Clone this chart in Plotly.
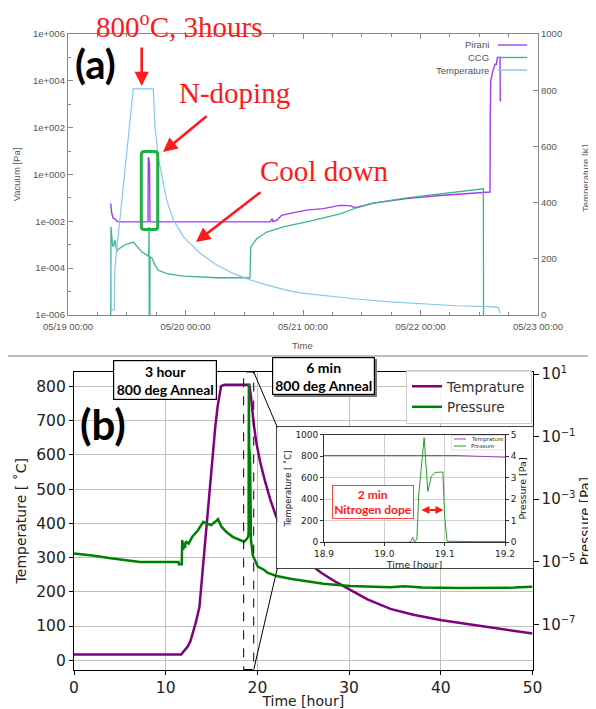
import plotly.graph_objects as go
import pandas as pd

# page is 596x709; the html body adds an 8 px margin, so the figure itself is 588x701
OFF = 8
W, H = 596 - OFF, 709 - OFF

# ---------------- (a) data : hours since 05/19 00:00 ----------------
a_pirani_h = [8.72, 8.89, 9.19, 9.6, 10.0, 10.62, 16.34, 16.4, 16.55, 16.65, 16.75,
              41.26, 41.7, 41.85, 42.63, 43.65, 45.35, 48.76, 52.1, 55.56, 57.6, 58.63,
              62.37, 69.19, 76.0, 86.2, 86.25, 86.35, 86.76, 87.22, 87.5, 87.7, 88.24, 88.29]
a_pirani_pa = [0.058, 0.025, 0.014, 0.0126, 0.010, 0.0095, 0.0095, 5.5, 4.0, 2.8, 0.0095,
               0.0095, 0.013, 0.0098, 0.011, 0.018, 0.022, 0.030, 0.035, 0.048, 0.047, 0.038,
               0.060, 0.093, 0.126, 0.178, 380, 1.0e4, 2.6e4, 5.1e4, 5.1e4, 1.0e5, 1.0e5, 1.3e3]

a_ccg_h = [8.72, 8.78, 9.09, 9.25, 9.6, 9.95, 10.21, 11.64, 13.34, 15.05, 16.48, 16.55,
           16.6, 16.7, 16.75, 17.1, 17.77, 18.44, 20.16, 23.55, 30.37, 37.17, 37.32,
           38.55, 40.59, 43.98, 49.43, 55.56, 58.97, 62.37, 69.19, 76.0, 84.84, 84.88]
a_ccg_pa = [3e-7, 5.8e-3, 1.0e-3, 8.1e-4, 1.6e-3, 5.0e-4, 6.3e-4, 1.0e-3, 1.3e-3, 5.0e-4,
            3.2e-4, 5.8e-3, 3e-7, 3e-7, 3.0e-4, 2.8e-4, 1.35e-4, 8.1e-5, 5.9e-5, 4.6e-5,
            3.9e-5, 3.9e-5, 8.1e-4, 1.8e-3, 3.5e-3, 5.8e-3, 1.02e-2, 2.1e-2, 3.8e-2,
            6.0e-2, 0.10, 0.15, 0.245, 3e-7]

a_temp_h = [8.74, 8.84, 9.46, 9.54, 9.74, 13.34, 17.42, 17.77, 18.44, 19.47, 20.16,
            21.51, 23.55, 26.96, 30.37, 33.76, 37.17, 40.59, 43.98, 47.39, 52.15,
            58.97, 65.77, 72.57, 79.39, 86.19, 87.89, 88.24]
a_temp_K = [190, 18, 18, 150, 196, 805, 805, 670, 560, 470, 409,
            338, 279, 220, 178, 148, 125, 107, 91, 79, 69,
            57, 47, 39, 33, 30, 27, 6]

a_names = ["Pirani", "CCG", "Temperature"]
a_vac_tickvals = [1e-6, 1e-4, 1e-2, 1e0, 1e2, 1e4, 1e6]
a_vac_ticktext = ["1e-006", "1e-004", "1e-002", "1e+000", "1e+002", "1e+004", "1e+006"]

# ---------------- (b) data : hours ----------------
b_t = [0, 11.7, 11.9, 12.1, 12.4, 12.7, 12.95, 13.3, 13.68, 14.11, 14.45, 14.8, 15.1,
       15.4, 15.67, 15.85, 16.04, 16.4, 19.12, 19.3, 19.6, 19.9, 20.3, 20.8, 21.4,
       22.05, 23.0, 24.0, 25.0, 26.1, 27.0, 28.6, 30.1, 32.0, 34.5, 37.0, 40.1,
       43.0, 45.4, 48.0, 50.0]
b_temp = [17, 17, 24, 30, 40, 56, 78, 112, 156, 292, 390, 500, 596,
          680, 743, 778, 801, 805, 805, 770, 690, 633, 580, 526, 470,
          419, 370, 330, 300, 273, 255, 228, 205, 178, 150, 133, 117,
          106, 97, 86, 78]

b_tp = [0, 2, 4, 6, 7.2, 11.4, 11.45, 11.75, 11.8, 11.9, 12.0, 12.1, 12.2, 12.5, 12.9,
        13.5, 14.1, 14.5, 14.95, 15.4, 15.7, 16.1, 16.6, 17.3, 18.0, 18.55, 18.75, 18.9,
        19.0, 19.04, 19.044, 19.047, 19.05, 19.054, 19.057, 19.066, 19.072, 19.078,
        19.084, 19.097, 19.1, 19.104, 19.15, 19.2, 19.3, 19.5, 20.05, 20.7, 21.1, 22.1,
        23.6, 24.7, 27.2, 30.1, 34.5, 36.0, 38.0, 42.0, 45.4, 48.0, 50.0]
b_pres = [1.86e-5, 1.6e-5, 1.3e-5, 1.1e-5, 9.8e-6, 9.8e-6, 8.3e-6, 8.3e-6, 5.0e-5,
          2.4e-5, 4.0e-5, 2.8e-5, 4.5e-5, 3.8e-5, 6.3e-5, 1.0e-4, 1.9e-4, 1.66e-4,
          1.5e-4, 1.9e-4, 2.3e-4, 1.3e-4, 9.1e-5, 6.3e-5, 5.0e-5, 4.4e-5, 5.0e-5,
          5.6e-5, 6.3e-5, 1.0e-4, 0.05, 0.23, 0.01, 0.15, 2.2, 4.85, 2.36, 3.06,
          3.24, 3.26, 1.2, 0.05, 0.03, 0.02, 5.0e-5, 1.6e-5, 7.0e-6, 5.6e-6, 4.5e-6,
          3.5e-6, 2.9e-6, 2.6e-6, 2.0e-6, 1.7e-6, 1.55e-6, 1.66e-6, 1.5e-6, 1.45e-6,
          1.45e-6, 1.5e-6, 1.6e-6]

b_names = ["Temprature", "Pressure"]
b_p_tickvals = [1e1, 1e-1, 1e-3, 1e-5, 1e-7]
b_p_exponents = ["1", "\u22121", "\u22123", "\u22125", "\u22127"]
zoom_window = [18.5, 19.6]
dope_window = [19.059, 19.098]

# ---------------- helpers (page pixel -> paper) ----------------
def px(x):
    return (x - OFF) / W

def py(y):
    return 1 - (y - OFF) / H

base = pd.Timestamp("2021-05-19 00:00")
def to_dt(hours):
    return [base + pd.Timedelta(hours=h) for h in hours]

b_p_ticktext = ["10<sup><span style='font-size:10px'>%s</span></sup>" % e for e in b_p_exponents]

C_PIR = "#a23cf0"
C_CCG = "#3db58c"
C_TA = "#86c8ee"
C_TB = "#800080"
C_TI = "#a040b4"
C_PB = "#008000"
C_PI = "#2a9d2a"
RED = "#ff1a1a"

GNU = dict(family="Liberation Sans", size=9.5, color="#555555")
MPL = dict(family="DejaVu Sans", size=15.5, color="#222222")
MPLT = dict(family="DejaVu Sans", size=14, color="#222222")
INS = dict(family="DejaVu Sans", size=9, color="#222222")

fig = go.Figure()

# (a)
fig.add_trace(go.Scatter(x=to_dt(a_pirani_h), y=a_pirani_pa, xaxis="x", yaxis="y", mode="lines",
                         name=a_names[0], line=dict(color=C_PIR, width=1.4), showlegend=False))
fig.add_trace(go.Scatter(x=to_dt(a_ccg_h), y=a_ccg_pa, xaxis="x", yaxis="y", mode="lines",
                         name=a_names[1], line=dict(color=C_CCG, width=1.3), showlegend=False))
fig.add_trace(go.Scatter(x=to_dt(a_temp_h), y=a_temp_K, xaxis="x", yaxis="y2", mode="lines",
                         name=a_names[2], line=dict(color=C_TA, width=1.2), showlegend=False))

# (b) main
fig.add_trace(go.Scatter(x=b_t, y=b_temp, xaxis="x3", yaxis="y3", mode="lines", name=b_names[0],
                         line=dict(color=C_TB, width=2.5)))
fig.add_trace(go.Scatter(x=b_tp, y=b_pres, xaxis="x3", yaxis="y4", mode="lines", name=b_names[1],
                         line=dict(color=C_PB, width=2.5)))
# inset frame (white background + border)
fig.add_trace(go.Scatter(x=[0.5], y=[0.5], xaxis="x5", yaxis="y5", mode="markers",
                         marker=dict(opacity=0), showlegend=False, hoverinfo="skip"))
# inset
fig.add_trace(go.Scatter(x=b_t, y=b_temp, xaxis="x6", yaxis="y6", mode="lines", name=b_names[0],
                         line=dict(color=C_TI, width=1), showlegend=False))
fig.add_trace(go.Scatter(x=b_tp, y=b_pres, xaxis="x6", yaxis="y7", mode="lines", name=b_names[1],
                         line=dict(color=C_PI, width=1), showlegend=False))

# domains
XA = [px(68), px(538)]
YA = [py(315), py(34)]
XB = [px(74), px(532.5)]
YB = [py(669.5), py(372)]
XF = [px(277.3), px(532.5)]
YF = [py(568.3), py(427.3)]
XI = [px(324), px(505)]
YI = [py(542.3), py(434.5)]
B_XRANGE = [0, 50]

def bx(t):
    return XB[0] + (t - B_XRANGE[0]) / (B_XRANGE[1] - B_XRANGE[0]) * (XB[1] - XB[0])

NOAM = dict(automargin=False, zeroline=False)

layout = dict(
    template="none",
    width=W, height=H, margin=dict(l=0, r=0, t=0, b=0, autoexpand=False),
    paper_bgcolor="white", plot_bgcolor="white",
    # ---- (a)
    xaxis=dict(domain=XA, anchor="y", type="date",
               range=[base, base + pd.Timedelta(days=4)],
               tick0=base, dtick=86400000, tickformat="%m/%d %H:%M",
               ticks="inside", ticklen=5, tickcolor="#888", mirror="ticks",
               showline=True, linecolor="#888", linewidth=1.3, showgrid=False,
               ticklabelstandoff=2,
               minor=dict(dtick=6 * 3600000, ticks="inside", ticklen=3, tickcolor="#888",
                          showgrid=False),
               tickfont=GNU, **NOAM),
    yaxis=dict(domain=YA, anchor="x", type="log", range=[-6, 6],
               tickvals=a_vac_tickvals, ticktext=a_vac_ticktext,
               ticks="inside", ticklen=5, tickcolor="#888",
               minor=dict(tickvals=[1e-5, 1e-3, 1e-1, 1e1, 1e3, 1e5], ticks="inside",
                          ticklen=3, tickcolor="#888", showgrid=False),
               showline=True, linecolor="#888", linewidth=1.3, showgrid=False,
               tickfont=GNU, title=dict(text="Vacuum [Pa]", font=GNU, standoff=10), **NOAM),
    yaxis2=dict(domain=YA, anchor="x", overlaying="y", side="right", range=[0, 1000],
                dtick=200, ticks="inside", ticklen=5, tickcolor="#888",
                showline=True, linecolor="#888", linewidth=1.3, showgrid=False,
                tickfont=GNU, **NOAM),
    # ---- (b)
    xaxis3=dict(domain=XB, anchor="y3", range=B_XRANGE, dtick=10, ticks="outside", ticklen=4,
                tickcolor="#000", showline=True, linecolor="#000", linewidth=1.2, mirror=True,
                showgrid=True, gridcolor="#c0c0c0", gridwidth=1,
                tickfont=MPL, title=dict(text="Time [hour]", font=MPLT, standoff=4), **NOAM),
    yaxis3=dict(domain=YB, anchor="x3", range=[-27, 842], dtick=100, ticks="outside", ticklen=4,
                tickcolor="#000", showline=True, linecolor="#000", linewidth=1.2,
                showgrid=True, gridcolor="#c0c0c0", gridwidth=1,
                tickfont=MPL, title=dict(text="Temperature [ \u02daC]", font=MPLT, standoff=6), **NOAM),
    yaxis4=dict(domain=YB, anchor="x3", overlaying="y3", side="right", type="log",
                range=[-8.44, 1.064], tickvals=b_p_tickvals, ticktext=b_p_ticktext,
                ticks="outside", ticklen=5, tickcolor="#000", showline=True, linecolor="#000",
                linewidth=1.2, showgrid=False, tickfont=dict(MPL, size=15), **NOAM),
    # ---- inset frame
    xaxis5=dict(domain=XF, anchor="y5", range=[0, 1], showline=True, mirror=True,
                linecolor="#444", linewidth=1, showgrid=False,
                showticklabels=False, ticks="", **NOAM),
    yaxis5=dict(domain=YF, anchor="x5", range=[0, 1], showline=True, mirror=True,
                linecolor="#444", linewidth=1, showgrid=False,
                showticklabels=False, ticks="", **NOAM),
    # ---- inset
    xaxis6=dict(domain=XI, anchor="y6", range=[18.9, 19.2], dtick=0.1, tickformat=".1f",
                ticks="outside", ticklen=3, tickcolor="#333", showline=True, mirror=True,
                linecolor="#333", linewidth=0.8, showgrid=True, gridcolor="#d0d0d0",
                tickfont=INS,
                title=dict(text="Time [hour]", font=dict(INS, size=9.5), standoff=2), **NOAM),
    yaxis6=dict(domain=YI, anchor="x6", range=[0, 1000], dtick=200, ticks="outside", ticklen=3,
                tickcolor="#333", showline=True, linecolor="#333", linewidth=0.8,
                showgrid=True, gridcolor="#d0d0d0", tickfont=INS,
                title=dict(text="Temperature [ \u02daC]", font=dict(INS, size=8.5), standoff=2), **NOAM),
    yaxis7=dict(domain=YI, anchor="x6", overlaying="y6", side="right", range=[0, 5], dtick=1,
                ticks="outside", ticklen=3, tickcolor="#333", showline=True, linecolor="#333",
                linewidth=0.8, showgrid=False, tickfont=INS,
                title=dict(text="Pressure [Pa]", font=dict(INS, size=9.5), standoff=2), **NOAM),
    legend=dict(x=px(532), xanchor="right", y=py(370), yanchor="top",
                font=dict(family="DejaVu Sans", size=13.5, color="#333"),
                bgcolor="rgba(255,255,255,0.85)", bordercolor="#cccccc", borderwidth=1),
    showlegend=True,
)
fig.update_layout(**layout)

shapes = []
annos = []

def note(x, y, text, font, **kw):
    d = dict(x=px(x), y=py(y), xref="paper", yref="paper", text=text, showarrow=False,
             xanchor="center", yanchor="middle", font=font)
    d.update(kw)
    annos.append(d)

# axis titles placed by hand
note(585, 178, "Temperature [K]", GNU, textangle=-90)
note(303, 346, "Time", GNU)
note(584.5, 521.7, "Pressure [Pa]", dict(MPLT, size=13.5), textangle=-90)

# ---- (a) legend (gnuplot style: text then sample line)
for i, (nm, col) in enumerate(zip(a_names, [C_PIR, C_CCG, C_TA])):
    yy = 45 + 12.5 * i
    note(491, yy, nm, GNU, xanchor="right")
    shapes.append(dict(type="line", xref="paper", yref="paper", x0=px(498), x1=px(527),
                       y0=py(yy), y1=py(yy), line=dict(color=col, width=1.4)))

# ---- inset legend (small, matplotlib style)
shapes.append(dict(type="rect", xref="paper", yref="paper", x0=px(451.5), x1=px(504.5),
                   y0=py(450), y1=py(435.5), fillcolor="rgba(255,255,255,0.85)",
                   line=dict(color="#cccccc", width=0.6)))
for i, (nm, col) in enumerate(zip(b_names, [C_TI, C_PI])):
    yy = 439 + 7 * i
    shapes.append(dict(type="line", xref="paper", yref="paper", x0=px(454), x1=px(466),
                       y0=py(yy), y1=py(yy), line=dict(color=col, width=1)))
    note(469, yy, nm, dict(family="DejaVu Sans", size=5.5, color="#333"), xanchor="left")

# ---- (a) red annotations
SER = dict(family="Liberation Serif", size=29, color=RED)
note(179, 25, "800<sup>o</sup>C, 3hours", SER)
note(234, 93, "N-doping", SER)
note(324, 171, "Cool down", SER)
for (hx, hy, ax_, ay_) in [(141.7, 86, 0, -40), (163, 152, 45, -37), (196, 242, 66, -51)]:
    annos.append(dict(x=px(hx), y=py(hy), xref="paper", yref="paper", text="", showarrow=True,
                      ax=ax_, ay=ay_, arrowhead=2, arrowsize=1.1, arrowwidth=2.6,
                      arrowcolor=RED))
# green rounded box
x0, x1, y0, y1, r = px(141.3), px(157.7), py(229.5), py(151.5), 3
rx, ry = r / W, r / H
path = (f"M {x0+rx},{y1} L {x1-rx},{y1} Q {x1},{y1} {x1},{y1-ry} L {x1},{y0+ry} "
        f"Q {x1},{y0} {x1-rx},{y0} L {x0+rx},{y0} Q {x0},{y0} {x0},{y0+ry} L {x0},{y1-ry} "
        f"Q {x0},{y1} {x0+rx},{y1} Z")
shapes.append(dict(type="path", xref="paper", yref="paper", path=path,
                   line=dict(color="#1db045", width=3)))

# panel labels
note(95, 64, "<b>(a)</b>", dict(family="Lato", size=40, color="black"))
note(102.5, 424, "<b>(b)</b>", dict(family="Lato", size=42, color="black"))

# separator
shapes.append(dict(type="line", xref="paper", yref="paper", x0=0, x1=1, y0=py(356),
                   y1=py(356), line=dict(color="#bdbdbd", width=2)))

# ---- (b) annotation boxes
BOX = dict(family="Lato", size=14, color="black")
shapes.append(dict(type="rect", xref="paper", yref="paper", x0=px(273.7), x1=px(377),
                   y0=py(397), y1=py(359), fillcolor="#777", line=dict(width=0)))
note(165.3, 380, "<b>3 hour<br>800 deg Anneal</b>", BOX, bgcolor="white",
     bordercolor="black", borderwidth=1.2, borderpad=0, width=102, height=38)
note(323.3, 376, "<b>6 min<br>800 deg Anneal</b>", BOX, bgcolor="white",
     bordercolor="black", borderwidth=1.2, borderpad=0, width=101, height=36)

# zoom window & connectors
shapes.append(dict(type="rect", xref="x3", yref="y3 domain", x0=zoom_window[0], x1=zoom_window[1],
                   y0=0, y1=1, line=dict(color="black", width=1, dash="dash")))
shapes.append(dict(type="line", xref="paper", yref="paper", x0=bx(zoom_window[1]), y0=YB[1],
                   x1=XF[0], y1=YF[1], line=dict(color="black", width=1)))
shapes.append(dict(type="line", xref="paper", yref="paper", x0=bx(zoom_window[1]), y0=YB[0],
                   x1=XF[0], y1=YF[0], line=dict(color="black", width=1)))

# inset red note + double arrow
note(372.8, 501.7, "<b>2 min<br>Nitrogen dope</b>", dict(family="Lato", size=12, color=RED),
     bgcolor="white", bordercolor="#ff4444", borderwidth=1, borderpad=0, width=80, height=32)
annos.append(dict(x=dope_window[1], y=300, xref="x6", yref="y6", ax=dope_window[0], ay=300,
                  axref="x6", ayref="y6", text="", showarrow=True, arrowside="end+start",
                  arrowhead=2, arrowsize=0.8, arrowwidth=2, arrowcolor=RED))

fig.update_layout(shapes=shapes, annotations=annos)
fig.write_html("out.html")
